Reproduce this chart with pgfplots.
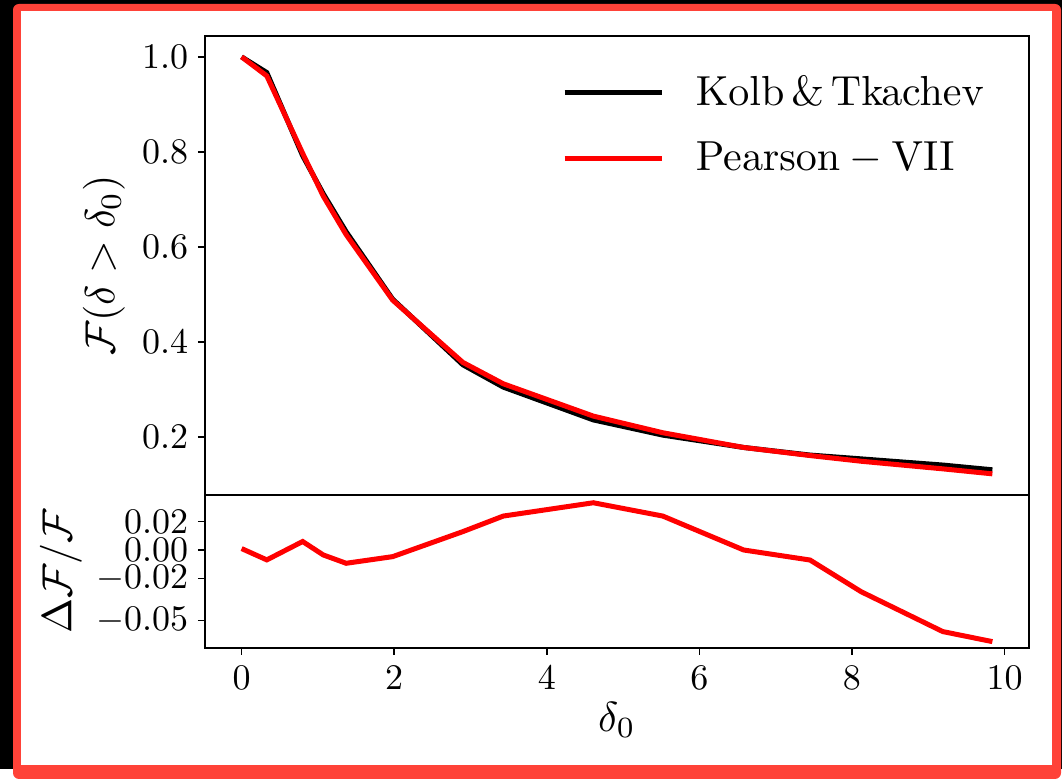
\documentclass[border=0pt]{standalone}
\usepackage{pgfplots}
\pgfplotsset{compat=1.18}
\definecolor{framered}{RGB}{255,66,56}
\newcommand{\tk}[1]{\scalebox{1.8}{$#1$}}
\newcommand{\lb}[1]{\scalebox{2.1}{$#1$}}
\pgfplotstableread{
x y
0 1.0
0.33 0.967
0.80 0.792
1.07 0.712
1.37 0.632
1.98 0.490
2.90 0.352
3.43 0.305
4.61 0.236
5.52 0.204
6.58 0.178
7.45 0.162
8.12 0.154
9.19 0.141
9.84 0.131
}\kolb
\pgfplotstableread{
x y
0 1.0
0.33 0.960
0.80 0.797
1.07 0.707
1.37 0.626
1.98 0.488
2.90 0.357
3.43 0.312
4.61 0.244
5.52 0.209
6.58 0.178
7.45 0.161
8.12 0.149
9.19 0.133
9.84 0.1225
}\pearson
\pgfplotstableread{
x y
0 0.001
0.33 -0.007
0.80 0.006
1.07 -0.0035
1.37 -0.0094
1.98 -0.0047
2.90 0.013
3.43 0.024
4.61 0.0334
5.52 0.024
6.58 0.0
7.45 -0.0071
8.12 -0.0295
9.19 -0.0577
9.84 -0.0648
}\resid
\begin{document}
\begin{tikzpicture}[x=0.5pt,y=0.5pt]
\fill[black] (0,0) rectangle (1062,769);
\fill[framered, rounded corners=3pt] (13,-10) rectangle (1061,765);
\fill[white] (21,4) rectangle (1052,758);
\pgfplotsset{
  every axis/.append style={
    scale only axis, width=412pt,
    xmin=-0.48, xmax=10.32,
    scaled x ticks=false, scaled y ticks=false,
    axis line style={line width=0.75pt},
    tick style={line width=0.75pt, black},
    major tick length=3.5pt,
    tick align=outside,
    tick label style={font=\fontsize{10}{12}\selectfont},
    xticklabel style={inner sep=5.5pt},
    yticklabel style={inner sep=4.75pt},
  },
}
\begin{axis}[
  at={(102.5pt,137pt)}, anchor=south west,
  height=229.5pt,
  ymin=0.078, ymax=1.044,
  xtick=\empty,
  ytick={0.2,0.4,0.6,0.8,1.0},
  yticklabels={\tk{0.2},\tk{0.4},\tk{0.6},\tk{0.8},\tk{1.0}},
  ytick pos=left,
  every axis y label/.style={at={(axis description cs:-0.1226,0.5)}, rotate=90, anchor=center, font=\fontsize{10}{12}\selectfont},
  ylabel={\lb{\mathcal{F}(\delta > \delta_0)}},
  legend style={draw=none, fill=none, at={(axis description cs:0.433,0.921)}, anchor=north west,
    font=\fontsize{10}{12}\selectfont, row sep=12.7pt, inner sep=0pt,
    /tikz/every odd column/.append style={column sep=13.8pt}},
  legend image code/.code={\draw[#1] (0pt,0pt) -- (48.5pt,0pt);},
  legend cell align=left,
]
\addplot[black, line width=2.5pt] table[x=x,y=y]{\kolb};
\addlegendentry{\lb{\rm Kolb\,\&\,Tkachev}}
\addplot[red, line width=2.5pt] table[x=x,y=y]{\pearson};
\addlegendentry{\lb{\rm Pearson-VII}}
\end{axis}
\begin{axis}[
  at={(102.5pt,60.5pt)}, anchor=south west,
  height=76.5pt,
  ymin=-0.0693, ymax=0.0389,
  xtick={0,2,4,6,8,10},
  xticklabels={\tk{0},\tk{2},\tk{4},\tk{6},\tk{8},\tk{10}},
  ytick={0.02,0,-0.02,-0.05},
  yticklabels={\tk{0.02},\tk{0.00},\tk{-0.02},\tk{-0.05}},
  xtick pos=bottom, ytick pos=left,
  every axis y label/.style={at={(axis description cs:-0.1748,0.5)}, rotate=90, anchor=center, font=\fontsize{10}{12}\selectfont},
  every axis x label/.style={at={(axis description cs:0.5,-0.4706)}, anchor=center, font=\fontsize{10}{12}\selectfont},
  ylabel={\lb{\Delta\mathcal{F}/\mathcal{F}}},
  xlabel={\lb{\delta_0}},
]
\addplot[red, line width=2.5pt] table[x=x,y=y]{\resid};
\end{axis}
\end{tikzpicture}
\end{document}
